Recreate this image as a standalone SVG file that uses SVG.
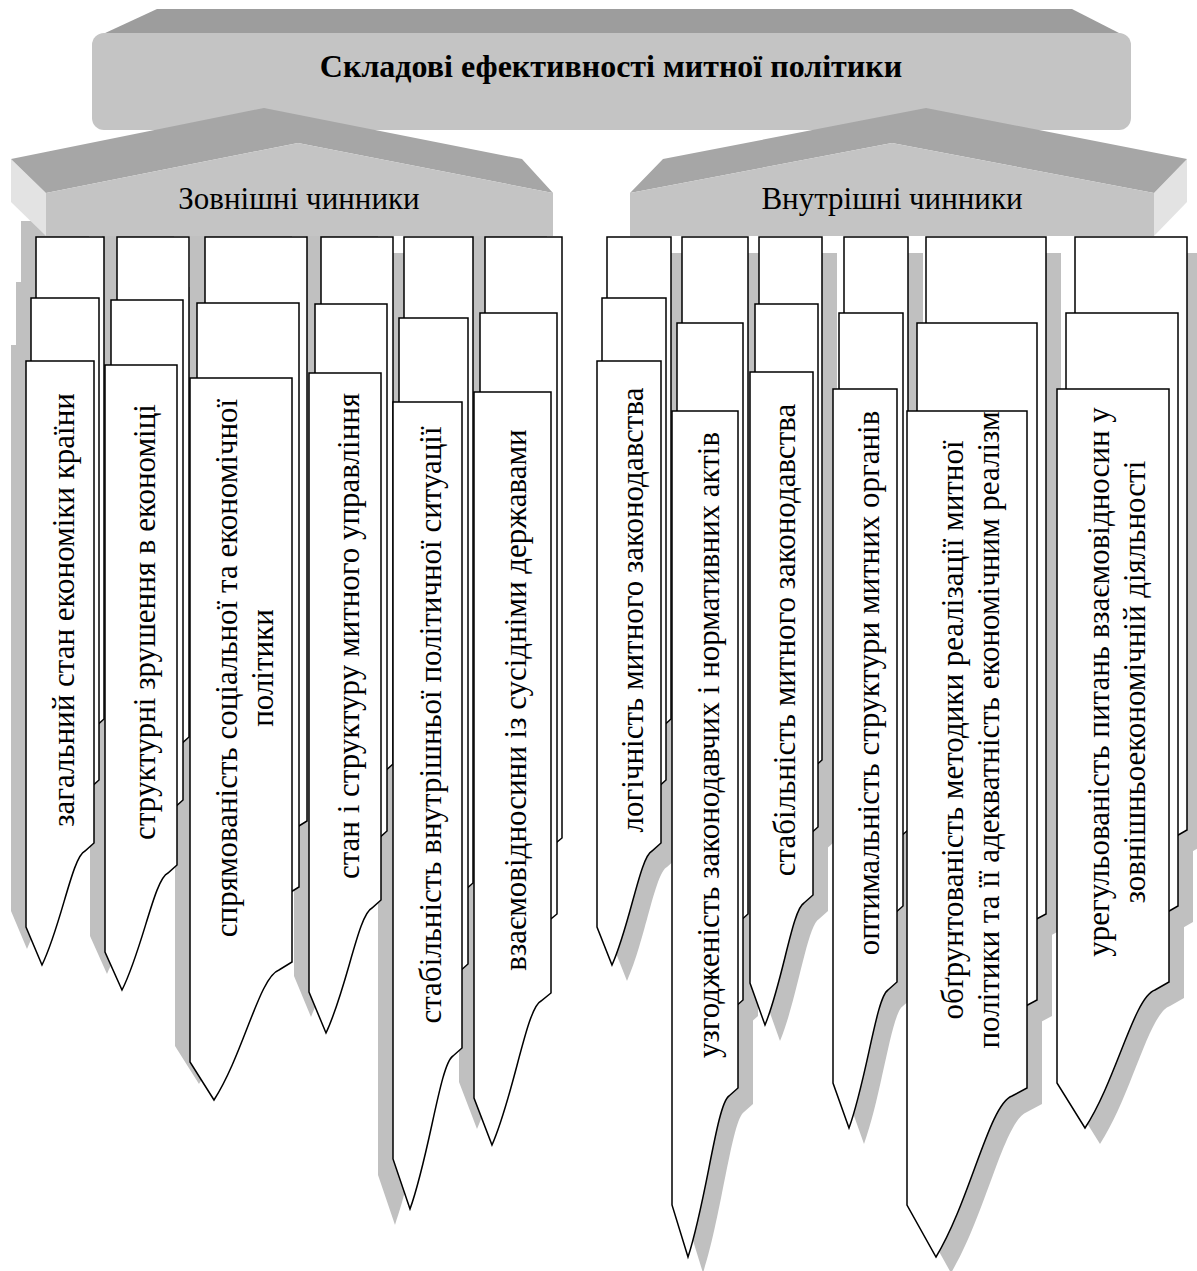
<svg xmlns="http://www.w3.org/2000/svg" xmlns:xlink="http://www.w3.org/1999/xlink" width="1197" height="1271" viewBox="0 0 1197 1271">
  <style>
    .sh{fill:#c0c0c0}
    .card{fill:#fff;stroke:#000;stroke-width:1.5}
    .lbl{font-family:"Liberation Serif","Times New Roman",serif;font-size:31px;fill:#000;text-anchor:middle}
    .title{font-family:"Liberation Serif","Times New Roman",serif;font-size:32px;font-weight:bold;fill:#000;text-anchor:middle}
    .btop{fill:#9d9d9d}
    .face{fill:#c4c4c4}
    .roof{fill:#a6a6a6}
    .side{fill:#e3e3e3}
  </style>
  <defs>
    <!-- card outlines: straight body, step on the right, curved tail ending in a point -->
    <path id="p1" d="M26,361 H94 V843 L85,851 C72.1,856.7 61.4,925.1 42,965 L26,927 Z"/>
    <path id="p2" d="M105,365 H177 V865 L168,873 C154.2,878.9 142.7,949 122,990 L105,952 Z"/>
    <path id="p3" d="M190,378 H292 V962 L279,970 C259.5,976.5 243.3,1054.5 214,1100 L190,1062 Z"/>
    <path id="p4" d="M309,373 H381 V900 L372,908 C358.2,914.3 346.7,989.3 326,1033 L309,992 Z"/>
    <path id="p5" d="M393,402 H462 V1048 L453,1056 C440.1,1063.7 429.4,1155.5 410,1209 L393,1159 Z"/>
    <path id="p6" d="M474,392 H551 V993 L541,1001 C526.3,1008.2 514.1,1094.6 492,1145 L474,1098 Z"/>
    <path id="p7" d="M597,361 H661 V843 L652,851 C640,856.7 630,925.1 612,965 L597,927 Z"/>
    <path id="p8" d="M672,411 H738 V1088 L729,1096 C716.7,1104 706.5,1200.6 688,1257 L672,1205 Z"/>
    <path id="p9" d="M750,372 H813 V895 L804,903 C792.3,909.1 782.6,982.3 765,1025 L750,983 Z"/>
    <path id="p10" d="M833,389 H897 V982 L888,990 C876.3,996.9 866.6,1079.7 849,1128 L833,1083 Z"/>
    <path id="p11" d="M907,411 H1027 V1088 L1012,1096 C989.2,1104 970.2,1200.6 936,1257 L907,1205 Z"/>
    <path id="p12" d="M1057,389 H1169 V982 L1155,990 C1134,996.9 1116.5,1079.7 1085,1128 L1057,1083 Z"/>
  </defs>

  <rect width="1197" height="1271" fill="#fff"/>

  <!-- drop shadows of all cards, kept underneath every card -->
  <g id="shadows" class="sh">
    <use xlink:href="#p1" transform="translate(-5,-140)"/>
    <use xlink:href="#p1" transform="translate(-10,-79)"/>
    <use xlink:href="#p1" transform="translate(-15,-16)"/>
    <use xlink:href="#p2" transform="translate(-3,-144)"/>
    <use xlink:href="#p2" transform="translate(-9,-81)"/>
    <use xlink:href="#p2" transform="translate(-15,-16)"/>
    <use xlink:href="#p3" transform="translate(0,-157)"/>
    <use xlink:href="#p3" transform="translate(-8,-91)"/>
    <use xlink:href="#p3" transform="translate(-15,-16)"/>
    <use xlink:href="#p4" transform="translate(-3,-152)"/>
    <use xlink:href="#p4" transform="translate(-9,-85)"/>
    <use xlink:href="#p4" transform="translate(-15,-16)"/>
    <use xlink:href="#p5" transform="translate(-4,-149)"/>
    <use xlink:href="#p5" transform="translate(-9,-68)"/>
    <use xlink:href="#p5" transform="translate(-15,16)"/>
    <use xlink:href="#p6" transform="translate(-4,-171)"/>
    <use xlink:href="#p6" transform="translate(-9,-95)"/>
    <use xlink:href="#p6" transform="translate(-15,-16)"/>
    <use xlink:href="#p7" transform="translate(25,-108)"/>
    <use xlink:href="#p7" transform="translate(20,-47)"/>
    <use xlink:href="#p7" transform="translate(15,16)"/>
    <use xlink:href="#p8" transform="translate(25,-158)"/>
    <use xlink:href="#p8" transform="translate(20,-72)"/>
    <use xlink:href="#p8" transform="translate(15,16)"/>
    <use xlink:href="#p9" transform="translate(24,-119)"/>
    <use xlink:href="#p9" transform="translate(20,-52)"/>
    <use xlink:href="#p9" transform="translate(15,16)"/>
    <use xlink:href="#p10" transform="translate(26,-136)"/>
    <use xlink:href="#p10" transform="translate(21,-60)"/>
    <use xlink:href="#p10" transform="translate(15,16)"/>
    <use xlink:href="#p11" transform="translate(34,-158)"/>
    <use xlink:href="#p11" transform="translate(25,-72)"/>
    <use xlink:href="#p11" transform="translate(15,16)"/>
    <use xlink:href="#p12" transform="translate(33,-136)"/>
    <use xlink:href="#p12" transform="translate(24,-60)"/>
    <use xlink:href="#p12" transform="translate(15,16)"/>
  </g>

  <!-- external factors: three stacked cards per column -->
  <g id="c1">
    <use class="card" xlink:href="#p1" transform="translate(10,-124)"/>
    <use class="card" xlink:href="#p1" transform="translate(5,-63)"/>
    <use class="card" xlink:href="#p1"/>
    <text class="lbl" transform="translate(74,610) rotate(-90)">загальний стан економіки країни</text>
  </g>
  <g id="c2">
    <use class="card" xlink:href="#p2" transform="translate(12,-128)"/>
    <use class="card" xlink:href="#p2" transform="translate(6,-65)"/>
    <use class="card" xlink:href="#p2"/>
    <text class="lbl" transform="translate(155,622) rotate(-90)">структурні зрушення в економіці</text>
  </g>
  <g id="c3">
    <use class="card" xlink:href="#p3" transform="translate(15,-141)"/>
    <use class="card" xlink:href="#p3" transform="translate(7,-75)"/>
    <use class="card" xlink:href="#p3"/>
    <text class="lbl" transform="translate(241,668) rotate(-90)"><tspan x="0" y="-4">спрямованість соціальної та економічної</tspan><tspan x="0" y="32">політики</tspan></text>
  </g>
  <g id="c4">
    <use class="card" xlink:href="#p4" transform="translate(12,-136)"/>
    <use class="card" xlink:href="#p4" transform="translate(6,-69)"/>
    <use class="card" xlink:href="#p4"/>
    <text class="lbl" transform="translate(359,636) rotate(-90)">стан і структуру митного управління</text>
  </g>
  <g id="c5">
    <use class="card" xlink:href="#p5" transform="translate(11,-165)"/>
    <use class="card" xlink:href="#p5" transform="translate(6,-84)"/>
    <use class="card" xlink:href="#p5"/>
    <text class="lbl" transform="translate(441,725) rotate(-90)">стабільність внутрішньої політичної ситуації</text>
  </g>
  <g id="c6">
    <use class="card" xlink:href="#p6" transform="translate(11,-155)"/>
    <use class="card" xlink:href="#p6" transform="translate(6,-79)"/>
    <use class="card" xlink:href="#p6"/>
    <text class="lbl" transform="translate(526,700) rotate(-90)">взаємовідносини із сусідніми державами</text>
  </g>

  <!-- internal factors -->
  <g id="c7">
    <use class="card" xlink:href="#p7" transform="translate(10,-124)"/>
    <use class="card" xlink:href="#p7" transform="translate(5,-63)"/>
    <use class="card" xlink:href="#p7"/>
    <text class="lbl" transform="translate(643,610) rotate(-90)">логічність митного законодавства</text>
  </g>
  <g id="c8">
    <use class="card" xlink:href="#p8" transform="translate(10,-174)"/>
    <use class="card" xlink:href="#p8" transform="translate(5,-88)"/>
    <use class="card" xlink:href="#p8"/>
    <text class="lbl" transform="translate(719,745) rotate(-90)">узгодженість законодавчих і нормативних актів</text>
  </g>
  <g id="c9">
    <use class="card" xlink:href="#p9" transform="translate(9,-135)"/>
    <use class="card" xlink:href="#p9" transform="translate(5,-68)"/>
    <use class="card" xlink:href="#p9"/>
    <text class="lbl" transform="translate(795,640) rotate(-90)">стабільність митного законодавства</text>
  </g>
  <g id="c10">
    <use class="card" xlink:href="#p10" transform="translate(11,-152)"/>
    <use class="card" xlink:href="#p10" transform="translate(6,-76)"/>
    <use class="card" xlink:href="#p10"/>
    <text class="lbl" transform="translate(879,683) rotate(-90)">оптимальність структури митних органів</text>
  </g>
  <g id="c11">
    <use class="card" xlink:href="#p11" transform="translate(19,-174)"/>
    <use class="card" xlink:href="#p11" transform="translate(10,-88)"/>
    <use class="card" xlink:href="#p11"/>
    <text class="lbl" transform="translate(967,730) rotate(-90)"><tspan x="0" y="-4">обґрунтованість методики реалізації митної</tspan><tspan x="0" y="32">політики та її адекватність економічним реалізм</tspan></text>
  </g>
  <g id="c12">
    <use class="card" xlink:href="#p12" transform="translate(18,-152)"/>
    <use class="card" xlink:href="#p12" transform="translate(9,-76)"/>
    <use class="card" xlink:href="#p12"/>
    <text class="lbl" transform="translate(1113,682) rotate(-90)"><tspan x="0" y="-4">урегульованість питань взаємовідносин у</tspan><tspan x="0" y="32">зовнішньоекономічній діяльності</tspan></text>
  </g>

  <!-- title block -->
  <g id="title">
    <polygon class="btop" points="103,34 157,9 1072,9 1121,34"/>
    <rect class="face" x="92" y="33" width="1039" height="97" rx="12"/>
    <text class="title" x="611" y="77">Складові ефективності митної політики</text>
  </g>

  <!-- group headers -->
  <g id="external">
    <polygon class="side" points="11,159 46,193 46,236 11,202"/>
    <polygon class="roof" points="11,159 264,108 522,159 553,193 298,143 46,193"/>
    <polygon class="face" points="46,193 298,143 553,193 553,236 46,236"/>
    <text class="lbl" x="299" y="209">Зовнішні чинники</text>
  </g>
  <g id="internal">
    <polygon class="side" points="1154,193 1187,159 1187,202 1154,236"/>
    <polygon class="roof" points="663,159 926,108 1187,159 1154,193 892,143 630,193"/>
    <polygon class="face" points="630,193 892,143 1154,193 1154,236 630,236"/>
    <text class="lbl" x="892" y="209">Внутрішні чинники</text>
  </g>
</svg>
